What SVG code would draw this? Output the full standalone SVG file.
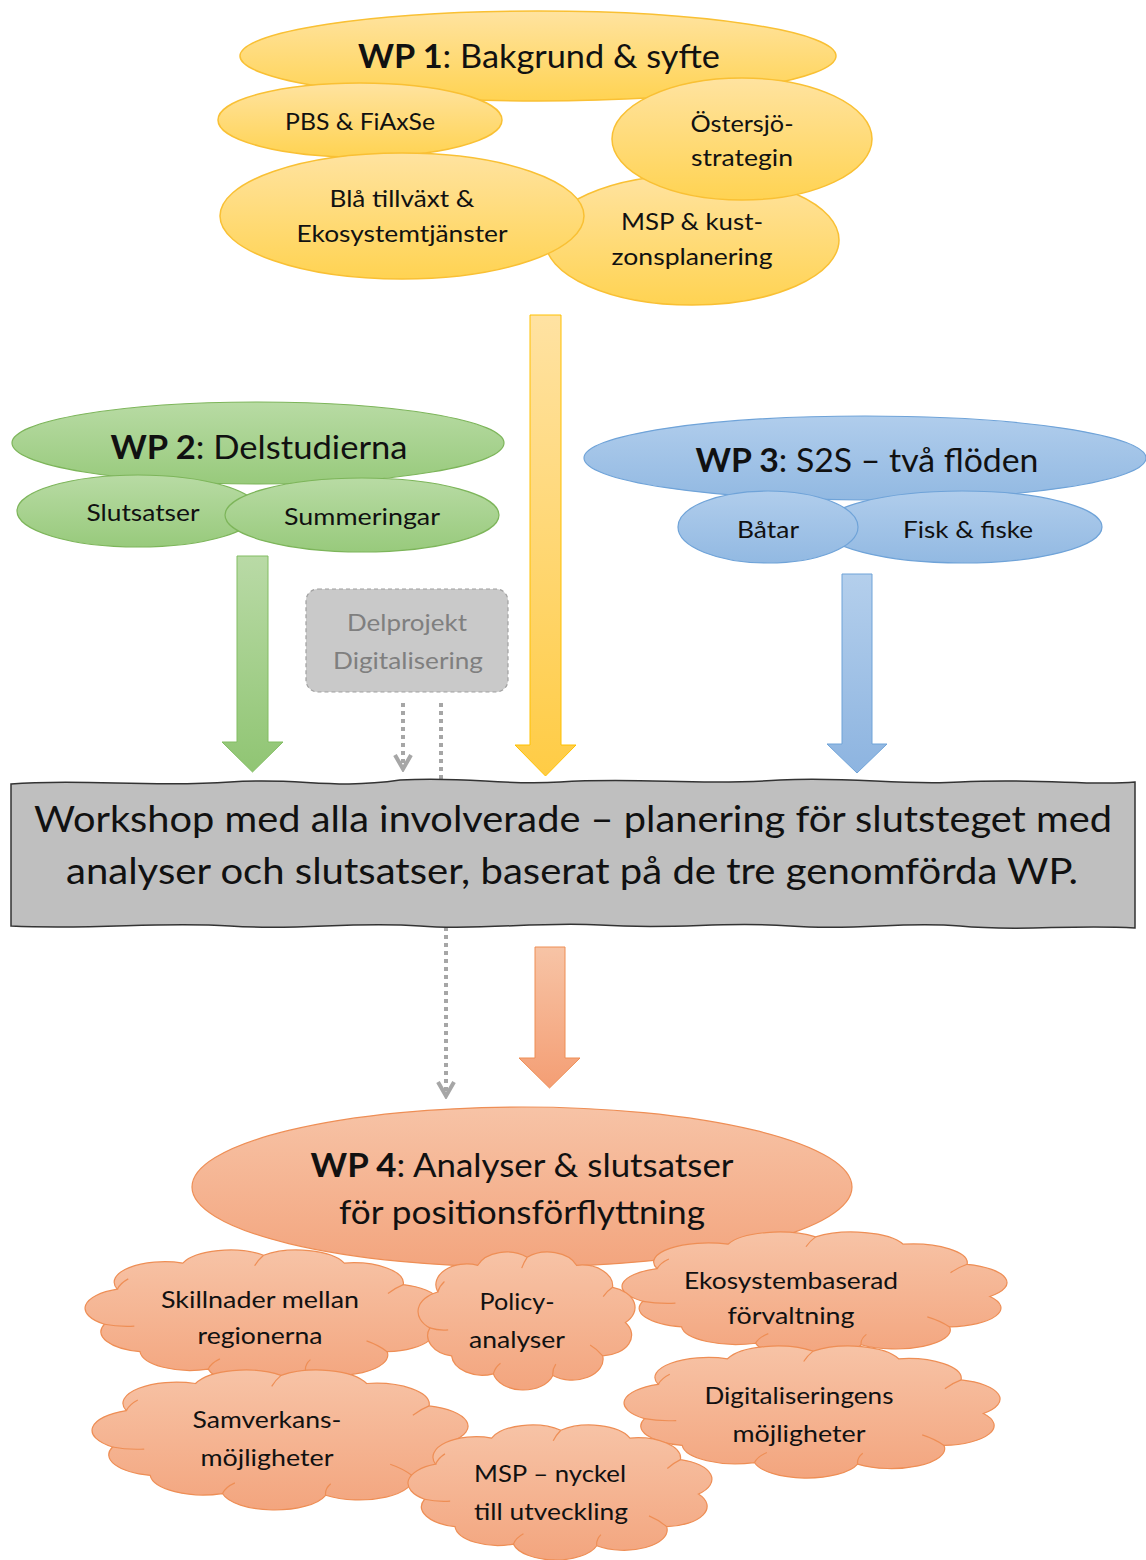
<svg xmlns="http://www.w3.org/2000/svg" xmlns:xlink="http://www.w3.org/1999/xlink" width="1146" height="1560" viewBox="0 0 1146 1560">
<style>
text{font-family:Lato,"Open Sans","Liberation Sans",sans-serif;fill:#111;text-anchor:middle}
.t24{font-size:24px}
.t33{font-size:33px}
.t37{font-size:37px}
.b{font-weight:bold}
.yel{fill:url(#gY);stroke:#F9C034;stroke-width:1.5}
.grn{fill:url(#gG);stroke:#7DB55A;stroke-width:1.2}
.blu{fill:url(#gB);stroke:#6FA3D8;stroke-width:1.2}
.org{fill:url(#gO);stroke:#EE8E55;stroke-width:1.2}
.cloud{fill:url(#gO);stroke:#EE8E55;stroke-width:1.2}
.cin{fill:none;stroke:#EE8E55;stroke-width:1.2}
.dot{fill:none;stroke:#A6A6A6;stroke-width:4;stroke-dasharray:4 4}
</style>
<defs>
<linearGradient id="gY" x1="0" y1="0" x2="0" y2="1"><stop offset="0" stop-color="#FFE3A0"/><stop offset="1" stop-color="#FFD352"/></linearGradient>
<linearGradient id="gG" x1="0" y1="0" x2="0" y2="1"><stop offset="0" stop-color="#B8DBA4"/><stop offset="1" stop-color="#98CA7C"/></linearGradient>
<linearGradient id="gB" x1="0" y1="0" x2="0" y2="1"><stop offset="0" stop-color="#B0CDEC"/><stop offset="1" stop-color="#92B9E2"/></linearGradient>
<linearGradient id="gO" x1="0" y1="0" x2="0" y2="1"><stop offset="0" stop-color="#F7C3A6"/><stop offset="1" stop-color="#F3A57E"/></linearGradient>
<linearGradient id="aY" x1="0" y1="0" x2="0" y2="1"><stop offset="0" stop-color="#FFE2A2"/><stop offset="1" stop-color="#FFCC45"/></linearGradient>
<linearGradient id="aG" x1="0" y1="0" x2="0" y2="1"><stop offset="0" stop-color="#B9DAA6"/><stop offset="1" stop-color="#90C573"/></linearGradient>
<linearGradient id="aB" x1="0" y1="0" x2="0" y2="1"><stop offset="0" stop-color="#B4CFEC"/><stop offset="1" stop-color="#8DB4E0"/></linearGradient>
<linearGradient id="aO" x1="0" y1="0" x2="0" y2="1"><stop offset="0" stop-color="#F7C4A6"/><stop offset="1" stop-color="#F49E74"/></linearGradient>
<marker id="chev" viewBox="0 0 20 20" refX="17" refY="10" markerWidth="20" markerHeight="20" markerUnits="userSpaceOnUse" orient="auto">
<path d="M3,2 L17,10 L3,18" fill="none" stroke="#A6A6A6" stroke-width="4"/>
</marker>
<path id="cloud" vector-effect="non-scaling-stroke" d="M10.6,58.3 A12.5,12.5 0 0 1 13.8,36.8 A12.5,12.5 0 0 1 30,20.8 A12.5,12.5 0 0 1 50,16 A12.5,12.5 0 0 1 70,20.8 A12.5,12.5 0 0 1 84.6,34 A12.5,12.5 0 0 1 89.8,55.1 A12.5,12.5 0 0 1 80.6,75.1 A12.5,12.5 0 0 1 60.4,86.8 A12.5,12.5 0 0 1 36.3,85.8 A12.5,12.5 0 0 1 19.4,75.1 A12.5,12.5 0 0 1 10.6,58.3 Z"/>
<path id="cloudin" vector-effect="non-scaling-stroke" d="M10.6,58.3 Q14,60 18,59.5 M13.8,36.8 Q14.6,33 16.5,30.5 M50,16 Q48.6,19 47.8,22.5 M84.6,34 Q82.6,36 80.8,39.5 M80.6,75.1 Q78.4,71 75.5,68.5 M60.4,86.8 Q60.2,83 61.6,80 M36.3,85.8 Q37,82 39.2,79.5"/>
</defs>
<rect width="1146" height="1560" fill="#fff"/>

<!-- connectors -->
<g id="connectors">
<polygon points="530,315 561,315 561,745 576,745 545.5,776 515,745 530,745" fill="url(#aY)" stroke="#FFC000" stroke-width="1"/>
<polygon points="237,556 268,556 268,742 283,742 252.5,772 222,742 237,742" fill="url(#aG)" stroke="#82BD62" stroke-width="1"/>
<polygon points="842,574 872,574 872,744 887,744 857,773 827,744 842,744" fill="url(#aB)" stroke="#6FA3D8" stroke-width="1"/>
<polygon points="535,947 565,947 565,1058 580,1058 549.5,1088 519,1058 535,1058" fill="url(#aO)" stroke="#EE8E55" stroke-width="1"/>
<path class="dot" d="M403,703 L403,769" marker-end="url(#chev)"/>
<path class="dot" d="M441,703 L441,790 L446,930 L446,1096" marker-end="url(#chev)"/>
</g>

<!-- WP1 -->
<g id="wp1">
<ellipse class="yel" cx="538" cy="56" rx="298" ry="45"/>
<text class="t33" x="539" y="68" textLength="362" lengthAdjust="spacingAndGlyphs"><tspan class="b">WP 1</tspan>: Bakgrund &amp; syfte</text>
</g>
<g id="pbs">
<ellipse class="yel" cx="360" cy="120" rx="142" ry="37"/>
<text class="t24" x="360" y="130" textLength="150" lengthAdjust="spacingAndGlyphs">PBS &amp; FiAxSe</text>
</g>
<g id="msp-kust">
<ellipse class="yel" cx="692" cy="240" rx="147" ry="65"/>
<text class="t24" x="692" y="230" textLength="142" lengthAdjust="spacingAndGlyphs">MSP &amp; kust-</text>
<text class="t24" x="692" y="265" textLength="161" lengthAdjust="spacingAndGlyphs">zonsplanering</text>
</g>
<g id="bla">
<ellipse class="yel" cx="402" cy="216" rx="182" ry="63"/>
<text class="t24" x="402" y="207" textLength="145" lengthAdjust="spacingAndGlyphs">Blå tillväxt &amp;</text>
<text class="t24" x="402" y="242" textLength="211" lengthAdjust="spacingAndGlyphs">Ekosystemtjänster</text>
</g>
<g id="ostersjo">
<ellipse class="yel" cx="742" cy="139" rx="130" ry="61"/>
<text class="t24" x="742" y="132" textLength="103" lengthAdjust="spacingAndGlyphs">Östersjö-</text>
<text class="t24" x="742" y="166" textLength="102" lengthAdjust="spacingAndGlyphs">strategin</text>
</g>

<!-- WP2 -->
<g id="wp2">
<ellipse class="grn" cx="258" cy="443" rx="246" ry="41"/>
<text class="t33" x="259" y="459" textLength="297" lengthAdjust="spacingAndGlyphs"><tspan class="b">WP 2</tspan>: Delstudierna</text>
</g>
<g id="slutsatser">
<ellipse class="grn" cx="138" cy="511" rx="121" ry="36"/>
<text class="t24" x="143" y="521" textLength="113" lengthAdjust="spacingAndGlyphs">Slutsatser</text>
</g>
<g id="summeringar">
<ellipse class="grn" cx="362" cy="515" rx="137" ry="37"/>
<text class="t24" x="362" y="525" textLength="156" lengthAdjust="spacingAndGlyphs">Summeringar</text>
</g>

<!-- WP3 -->
<g id="wp3">
<ellipse class="blu" cx="865" cy="458" rx="281" ry="42"/>
<text class="t33" x="867" y="472" textLength="343" lengthAdjust="spacingAndGlyphs"><tspan class="b">WP 3</tspan>: S2S – två flöden</text>
</g>
<g id="fisk">
<ellipse class="blu" cx="962" cy="527" rx="140" ry="36"/>
<text class="t24" x="968" y="538" textLength="130" lengthAdjust="spacingAndGlyphs">Fisk &amp; fiske</text>
</g>
<g id="batar">
<ellipse class="blu" cx="768" cy="527" rx="90" ry="36"/>
<text class="t24" x="768" y="538" textLength="62" lengthAdjust="spacingAndGlyphs">Båtar</text>
</g>

<!-- Delprojekt -->
<g id="delprojekt">
<rect x="306" y="589" width="202" height="103" rx="12" fill="#C9C9C9" stroke="#A0A0A0" stroke-width="1.2" stroke-dasharray="4 3"/>
<text class="t24" x="407" y="631" style="fill:#7F7F7F" textLength="120" lengthAdjust="spacingAndGlyphs">Delprojekt</text>
<text class="t24" x="408" y="669" style="fill:#7F7F7F" textLength="150" lengthAdjust="spacingAndGlyphs">Digitalisering</text>
</g>

<!-- Workshop -->
<g id="workshop">
<path d="M11,784 C80,778 150,788 230,782 C300,777 330,790 400,780 C470,776 500,786 560,782 C640,777 700,786 780,780 C850,776 900,786 960,782 C1040,778 1090,786 1135,782 L1135,928 C1070,924 1020,932 960,926 C900,921 860,931 790,926 C720,921 680,930 600,925 C540,921 480,931 420,926 C350,921 300,931 230,926 C160,921 100,930 11,926 Z" fill="#BFBFBF" stroke="#333" stroke-width="1.5"/>
<text class="t37" x="573" y="832" textLength="1078" lengthAdjust="spacingAndGlyphs">Workshop med alla involverade – planering för slutsteget med</text>
<text class="t37" x="572" y="884" textLength="1012" lengthAdjust="spacingAndGlyphs">analyser och slutsatser, baserat på de tre genomförda WP.</text>
</g>

<!-- WP4 -->
<g id="wp4">
<ellipse class="org" cx="522" cy="1187" rx="330" ry="80"/>
<text class="t33" x="522" y="1177" textLength="423" lengthAdjust="spacingAndGlyphs"><tspan class="b">WP 4</tspan>: Analyser &amp; slutsatser</text>
<text class="t33" x="522" y="1224" textLength="366" lengthAdjust="spacingAndGlyphs">för positionsförflyttning</text>
</g>
<g id="eko">
<g transform="translate(596.6,1212.5) scale(4.38,1.5236)"><use href="#cloud" class="cloud"/><use href="#cloudin" class="cin"/></g>
<text class="t24" x="791" y="1289" textLength="214" lengthAdjust="spacingAndGlyphs">Ekosystembaserad</text>
<text class="t24" x="791" y="1324" textLength="127" lengthAdjust="spacingAndGlyphs">förvaltning</text>
</g>
<g id="skillnader">
<g transform="translate(61.6,1229.1) scale(4.039,1.632)"><use href="#cloud" class="cloud"/><use href="#cloudin" class="cin"/></g>
<text class="t24" x="260" y="1308" textLength="198" lengthAdjust="spacingAndGlyphs">Skillnader mellan</text>
<text class="t24" x="260" y="1344" textLength="125" lengthAdjust="spacingAndGlyphs">regionerna</text>
</g>
<g id="policy">
<g transform="translate(403.7,1230.6) scale(2.469,1.669)"><use href="#cloud" class="cloud"/><use href="#cloudin" class="cin"/></g>
<text class="t24" x="517" y="1310" textLength="75" lengthAdjust="spacingAndGlyphs">Policy-</text>
<text class="t24" x="517" y="1348" textLength="96" lengthAdjust="spacingAndGlyphs">analyser</text>
</g>
<g id="digital">
<g transform="translate(599.2,1325.6) scale(4.278,1.596)"><use href="#cloud" class="cloud"/><use href="#cloudin" class="cin"/></g>
<text class="t24" x="799" y="1404" textLength="189" lengthAdjust="spacingAndGlyphs">Digitaliseringens</text>
<text class="t24" x="799" y="1442" textLength="133" lengthAdjust="spacingAndGlyphs">möjligheter</text>
</g>
<g id="samverkan">
<g transform="translate(67.2,1348.3) scale(4.278,1.693)"><use href="#cloud" class="cloud"/><use href="#cloudin" class="cin"/></g>
<text class="t24" x="267" y="1428" textLength="149" lengthAdjust="spacingAndGlyphs">Samverkans-</text>
<text class="t24" x="267" y="1466" textLength="133" lengthAdjust="spacingAndGlyphs">möjligheter</text>
</g>
<g id="msp-nyckel">
<g transform="translate(387.9,1404.1) scale(3.458,1.632)"><use href="#cloud" class="cloud"/><use href="#cloudin" class="cin"/></g>
<text class="t24" x="550" y="1482" textLength="152" lengthAdjust="spacingAndGlyphs">MSP – nyckel</text>
<text class="t24" x="551" y="1520" textLength="154" lengthAdjust="spacingAndGlyphs">till utveckling</text>
</g>
</svg>
